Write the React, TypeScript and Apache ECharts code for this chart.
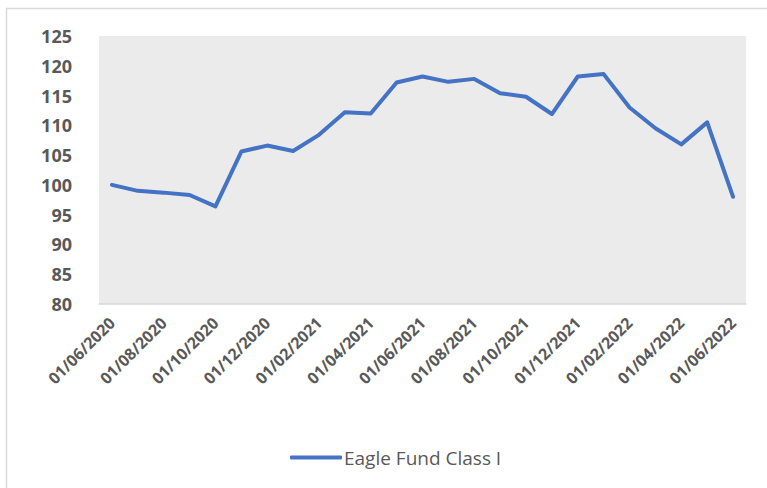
import React, { useEffect, useRef } from "react";
import * as echarts from "echarts";

const categories = [
  "01/06/2020", "01/07/2020", "01/08/2020", "01/09/2020", "01/10/2020",
  "01/11/2020", "01/12/2020", "01/01/2021", "01/02/2021", "01/03/2021",
  "01/04/2021", "01/05/2021", "01/06/2021", "01/07/2021", "01/08/2021",
  "01/09/2021", "01/10/2021", "01/11/2021", "01/12/2021", "01/01/2022",
  "01/02/2022", "01/03/2022", "01/04/2022", "01/05/2022", "01/06/2022",
];

const eagleFund = [
  100.0, 99.0, 98.7, 98.3, 96.4,
  105.6, 106.6, 105.7, 108.4, 112.2,
  112.0, 117.2, 118.2, 117.3, 117.8,
  115.4, 114.8, 111.9, 118.2, 118.6,
  113.0, 109.5, 106.8, 110.5, 98.0,
];

const seriesName = "Eagle Fund Class I";

export default function App() {
  const ref = useRef<HTMLDivElement>(null);
  useEffect(() => {
    if (!ref.current) return;
    const chart = echarts.init(ref.current, undefined, { renderer: "svg" });
    chart.setOption({
      animation: false,
      backgroundColor: "#ffffff",
      graphic: [
        {
          type: "rect",
          shape: { x: 6.5, y: 8.5, width: 900, height: 600 },
          style: { fill: "none", stroke: "#d9d9d9", lineWidth: 1.5 },
          silent: true,
        },
      ],
      grid: {
        left: 99,
        right: 21,
        top: 36,
        bottom: 184,
        show: true,
        backgroundColor: "#ebebeb",
        borderWidth: 0,
      },
      legend: {
        show: true,
        left: 285,
        top: 443,
        icon: "roundRect",
        itemWidth: 52,
        itemHeight: 4,
        itemGap: 10,
        textStyle: {
          color: "#595959",
          fontSize: 19,
          fontFamily: "Open Sans",
          padding: [0, 0, 0, -3],
        },
        data: [seriesName],
      },
      xAxis: {
        type: "category",
        data: categories,
        boundaryGap: true,
        axisLine: { show: true, lineStyle: { color: "#d9d9d9", width: 1.5 } },
        axisTick: { show: false },
        splitLine: { show: false },
        axisLabel: {
          interval: 1,
          rotate: 45,
          margin: 16,
          color: "#595959",
          fontSize: 16,
          fontWeight: "bold",
          fontFamily: "Open Sans",
        },
      },
      yAxis: {
        type: "value",
        min: 80,
        max: 125,
        interval: 5,
        axisLine: { show: false },
        axisTick: { show: false },
        splitLine: { show: false },
        axisLabel: {
          margin: 27,
          color: "#595959",
          fontSize: 18,
          fontWeight: "bold",
          fontFamily: "Open Sans",
        },
      },
      series: [
        {
          name: seriesName,
          type: "line",
          data: eagleFund,
          showSymbol: false,
          symbol: "none",
          lineStyle: { color: "#4472c4", width: 4, cap: "round", join: "round" },
          itemStyle: { color: "#4472c4" },
        },
      ],
    });
    return () => chart.dispose();
  }, []);
  return (
    <div
      ref={ref}
      style={{ position: "absolute", left: 0, top: 0, width: 767, height: 488 }}
    />
  );
}
